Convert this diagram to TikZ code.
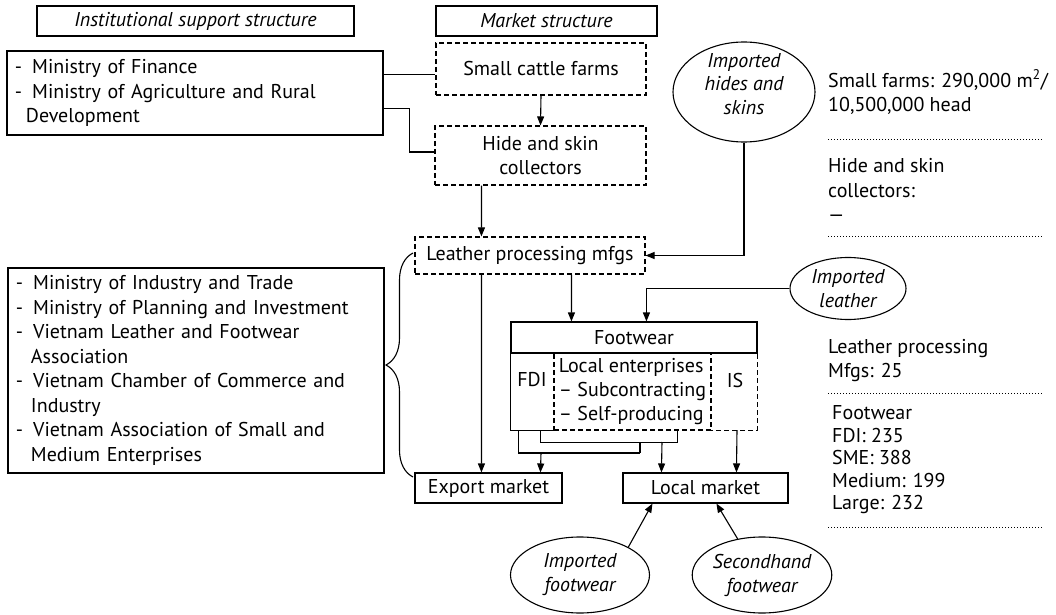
\documentclass[tikz,border=0pt]{standalone}
\usepackage{fontspec}
\setmainfont{PT Sans}
\usetikzlibrary{arrows.meta,shapes.geometric,decorations.pathreplacing,calc}
\begin{document}
\begin{tikzpicture}[x=1bp,y=-1bp,
  every node/.style={font=\fontsize{20bp}{24.5bp}\selectfont, inner sep=0pt},
  lw/.style={line width=1.1bp},
  solidbox/.style={draw, lw},
  dashbox/.style={draw, lw, dash pattern=on 5bp off 3bp},
  dashline/.style={lw, dash pattern=on 5bp off 3bp},
  oval/.style={draw, lw, ellipse, inner sep=0pt, align=center, font=\fontsize{20bp}{24bp}\selectfont\itshape},
  ital/.style={font=\fontsize{20bp}{24.5bp}\selectfont\itshape},
  arr/.style={lw, -{Triangle[length=9bp,width=7bp]}},
  conn/.style={lw},
  sep/.style={line width=1bp, dash pattern=on 1.2bp off 1.8bp},
  side/.style={anchor=west, align=left},
]
\useasboundingbox (0,0) rectangle (1056,615);

% headers
\node[solidbox, ital, minimum width=317bp, minimum height=30bp] (inst) at (195.5,21) {Institutional support structure};
\node[solidbox, ital, minimum width=221bp, minimum height=30bp] (mkt) at (546.5,21) {Market structure};

% institutional boxes
\node[solidbox, minimum width=376bp, minimum height=84bp, text width=360bp, align=left, inner xsep=8bp] (min1) at (195,93)
 {-\hspace{10bp}Ministry of Finance\\
  -\hspace{10bp}Ministry of Agriculture and Rural\\
  \hspace*{11bp}Development};
\node[solidbox, minimum width=376bp, minimum height=205bp, text width=360bp, align=left, inner xsep=8bp] (min2) at (196,370.5)
 {-\hspace{10bp}Ministry of Industry and Trade\\
  -\hspace{10bp}Ministry of Planning and Investment\\
  -\hspace{10bp}Vietnam Leather and Footwear\\
  \hspace*{15bp}Association\\
  -\hspace{10bp}Vietnam Chamber of Commerce and\\
  \hspace*{15bp}Industry\\
  -\hspace{10bp}Vietnam Association of Small and\\
  \hspace*{15bp}Medium Enterprises};

% market chain
\node[dashbox, minimum width=210bp, minimum height=52bp] (farms) at (541,69) {Small cattle farms};
\node[dashbox, minimum width=211bp, minimum height=59bp, align=center] (hides) at (540.5,155.5) {Hide and skin\\collectors};
\node[dashbox, minimum width=230bp, minimum height=37bp] (leather) at (530,255.5) {Leather processing mfgs};

% footwear block
\node[solidbox, minimum width=246bp, minimum height=31bp] (fw) at (634,337.5) {Footwear};
\node[minimum width=43bp, minimum height=77bp] (fdi) at (532.5,391.5) {};
\node (fditext) at (532,380) {FDI};
\node[dashbox, minimum width=157bp, minimum height=77bp, align=left, font=\fontsize{20bp}{24bp}\selectfont] (local) at (632.5,391.5)
 {Local enterprises\\
  \textendash\ Subcontracting\\
  \textendash\ Self-producing};
\node[minimum width=46bp, minimum height=77bp] (isreg) at (734,391.5) {};
\node (istext) at (735,380) {IS};
\draw[conn] (fdi.north west) -- (fdi.south west) -- (fdi.south east);
\draw[dashline] (isreg.north west) -- (isreg.north east) -- (isreg.south east) -- (isreg.south west);

% markets
\node[solidbox, minimum width=147bp, minimum height=30bp] (export) at (488.5,488) {Export market};
\node[solidbox, minimum width=165bp, minimum height=30bp] (localm) at (705.5,488) {Local market};

% ellipses
\node[oval, minimum width=142bp, minimum height=100bp] (hidesell) at (744,92) {};
\node[ital, align=center, font=\fontsize{20bp}{23.5bp}\selectfont\itshape] (hidestext) at (744,84) {Imported\\hides and\\skins};
\node[oval, minimum width=116bp, minimum height=62bp] (leathell) at (848,288.5) {Imported\\leather};
\node[oval, minimum width=139bp, minimum height=76bp] (impfw) at (580,575) {Imported\\footwear};
\node[oval, minimum width=138bp, minimum height=76bp] (shfw) at (762,575) {Secondhand\\footwear};

% connectors
\draw[conn] ([yshift=-24bp]min1.north east) -- ([yshift=-24bp]min1.north east -| farms.west);
\draw[conn] ([yshift=-58bp]min1.north east) -- ++(26,0) |- ([yshift=3.5bp]hides.west);
\draw[arr] (farms.south) -- (hides.north);
\draw[arr] ([xshift=47bp]hides.south west) -- ([xshift=67bp]leather.north west);
\draw[arr] (hidesell.south) |- (leather.east);
\draw[arr] ([xshift=67bp]leather.south west) -- ([xshift=67bp]export.north west);
\draw[arr] ([xshift=157bp]leather.south west) -- ([xshift=61bp]fw.north west);
\draw[arr] (leathell.west) -| ([xshift=136bp]fw.north west);

\coordinate (busE) at (640,453);
\coordinate (busL) at (640,442);
\coordinate (outE) at (541,453);
\coordinate (outL) at (662,442);
\draw[conn] ([xshift=8bp]fdi.south west) |- (busE);
\draw[conn] ([xshift=30bp]fdi.south west) -- ++(0,12) -| ([xshift=124bp]local.south west);
\draw[conn] (busL) -- (busE);
\draw[arr] (outE) -- ([xshift=126bp]export.north west);
\draw[arr] (outL) -- ([xshift=39bp]localm.north west);
\draw[arr] ([xshift=3bp]isreg.south) -- ([xshift=114bp]localm.north west);
\draw[arr] (impfw.30) -- ([xshift=30bp]localm.south west);
\draw[arr] (shfw.124) -- ([xshift=94bp]localm.south west);

% brace
\coordinate (brTop) at (413,253);
\coordinate (brBot) at (413,477);
\draw[lw, decorate, decoration={brace, amplitude=27bp}] (brBot) -- (brTop);

% right column
\node[side] (rc1) at (828,92.5) {Small farms: 290,000 m\textsuperscript{2}/\\10,500,000 head};
\draw[sep] (828,140) -- (1042,140);
\node[side] (rc2) at (828,190) {Hide and skin\\collectors:\\\textemdash};
\draw[sep] (828,237) -- (1042,237);
\node[side] (rc3) at (828,360.5) {Leather processing\\Mfgs: 25};
\draw[sep] (828,393) -- (1042,393);
\node[side, font=\fontsize{20bp}{22.5bp}\selectfont] (rc4) at (832,460) {Footwear\\FDI: 235\\SME: 388\\Medium: 199\\Large: 232};
\draw[sep] (828,527) -- (1042,527);
\end{tikzpicture}
\end{document}
